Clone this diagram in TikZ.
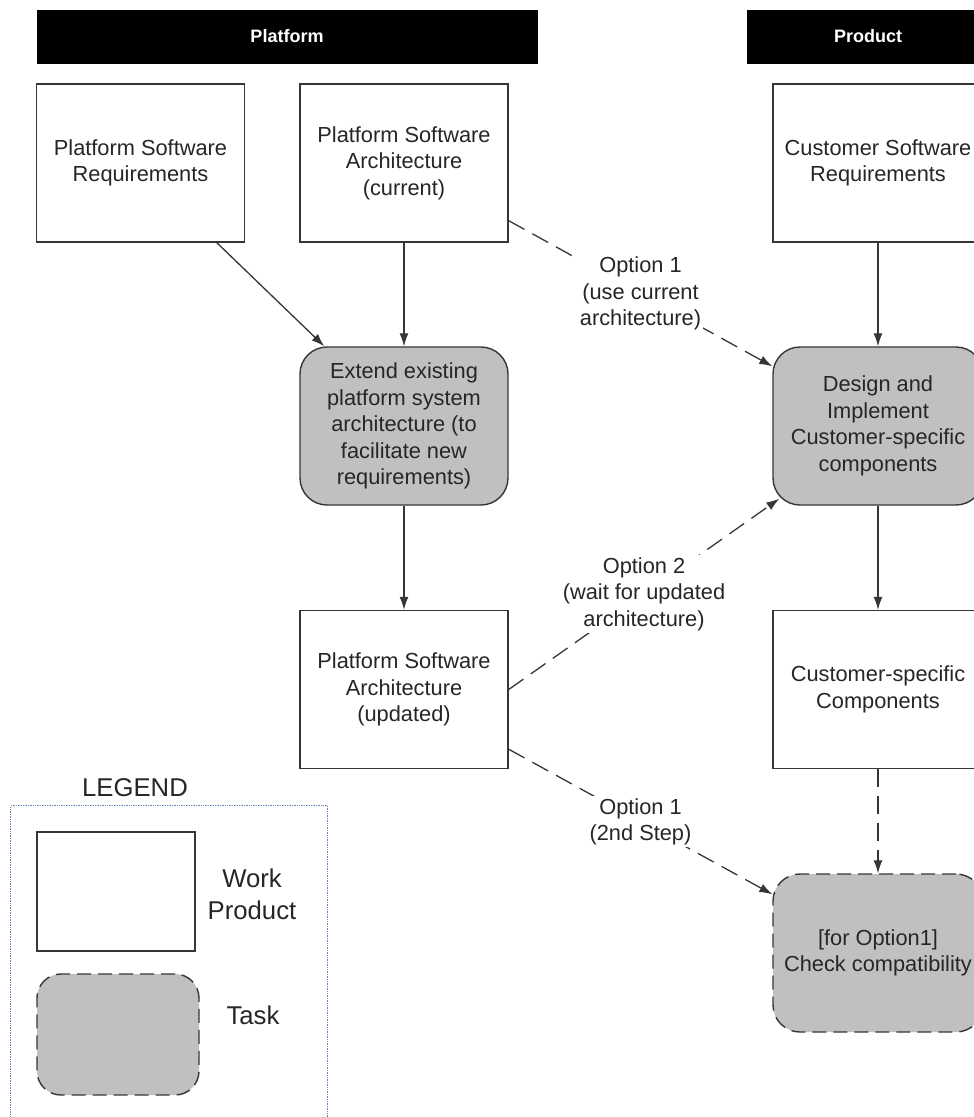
\documentclass[tikz,border=0pt]{standalone}
\usepackage{fontspec}
\setmainfont{Liberation Sans}
\usetikzlibrary{arrows.meta,calc}
\definecolor{ink}{HTML}{262626}
\definecolor{edge}{HTML}{363636}
\definecolor{taskgray}{HTML}{C0C0C0}
\definecolor{legendblue}{HTML}{6684B4}

\begin{document}
\begin{tikzpicture}[x=1pt,y=-1pt,
  txt/.style={font=\fontsize{21.8}{26.5}\selectfont, text=ink, align=center},
  header/.style={fill=black, draw=black, font=\fontsize{18}{20}\selectfont\bfseries,
    text=white, inner sep=0, minimum height=53},
  workbox/.style={txt, draw=edge, line width=1.4pt, fill=white,
    minimum width=208, minimum height=158, inner sep=0},
  taskbox/.style={workbox, fill=taskgray, rounded corners=27},
  optional/.style={dash pattern=on 14pt off 7pt},
  flow/.style={draw=edge, line width=1.3pt, -{Latex[length=13pt,width=9pt]}},
  alt/.style={flow, dash pattern=on 18pt off 9pt},
  optlabel/.style={txt, fill=white, inner sep=2pt},
  legtxt/.style={font=\fontsize{25.7}{32}\selectfont, text=ink, align=center}
]
\clip (0,0) rectangle (974,1117);
\fill[white] (0,0) rectangle (974,1117);

% column headers
\node[header, minimum width=500] (hplat) at (287,36.5) {Platform};
\node[header, minimum width=242] (hprod) at (868,36.5) {Product};

% platform column
\node[workbox] (psr)  at (140.5,163) {Platform Software\\Requirements};
\node[workbox] (psac) at (404,163)   {Platform Software\\Architecture\\(current)};
\node[taskbox] (ext)  at (404,426)   {Extend existing\\platform system\\architecture (to\\facilitate new\\requirements)};
\node[workbox] (psau) at (404,689.5) {Platform Software\\Architecture\\(updated)};

% product column
\node[workbox, minimum width=210] (csr) at (878,163)   {Customer Software\\Requirements};
\node[taskbox, minimum width=210] (des) at (878,426)   {Design and\\Implement\\Customer-specific\\components};
\node[workbox, minimum width=210] (csc) at (878,689.5) {Customer-specific\\Components};
\node[taskbox, optional, minimum width=210] (chk) at (878,953) {[for Option1]\\Check compatibility};

% solid flows
\draw[flow] ($(psr.south west)+(181,0)$) -- ($(ext.north west)+(25,0)$);
\draw[flow] (psac.south) -- (ext.north);
\draw[flow] (ext.south) -- (psau.north);
\draw[flow] (csr.south) -- (des.north);
\draw[flow] (des.south) -- (csc.north);

% optional flows
\draw[alt] ($(psac.south east)+(0,-22)$) -- ($(des.north west)+(0,20)$)
  node[optlabel, pos=0.5] (opt1) {Option 1\\(use current\\architecture)};
\draw[alt] (psau.east) -- ($(des.south west)+(7,-7)$)
  node[optlabel, pos=0.5] (opt2) {Option 2\\(wait for updated\\architecture)};
\draw[alt] ($(psau.south east)+(0,-20)$) -- ($(chk.north west)+(0,21)$)
  node[optlabel, pos=0.5] (opt1b) {Option 1\\(2nd Step)};
\draw[alt] (csc.south) -- (chk.north);

% legend
\node[legtxt] (legtitle) at (135,788) {LEGEND};
\node[draw=legendblue, line width=1.4pt, dash pattern=on 1.4pt off 1pt,
  minimum width=317, minimum height=330, anchor=north west, inner sep=0] (legbox) at (10,805) {};
\node[draw=edge, line width=1.4pt, fill=white, minimum width=158, minimum height=119,
  inner sep=0] (legwp) at (116,891.5) {};
\node[draw=edge, line width=1.4pt, fill=taskgray, rounded corners=24, optional,
  minimum width=162, minimum height=121, inner sep=0] (legtask) at (118,1034.5) {};
\node[legtxt] (legwptxt) at (252,894) {Work\\Product};
\node[legtxt] (legtasktxt) at (253,1015) {Task};
\end{tikzpicture}
\end{document}
